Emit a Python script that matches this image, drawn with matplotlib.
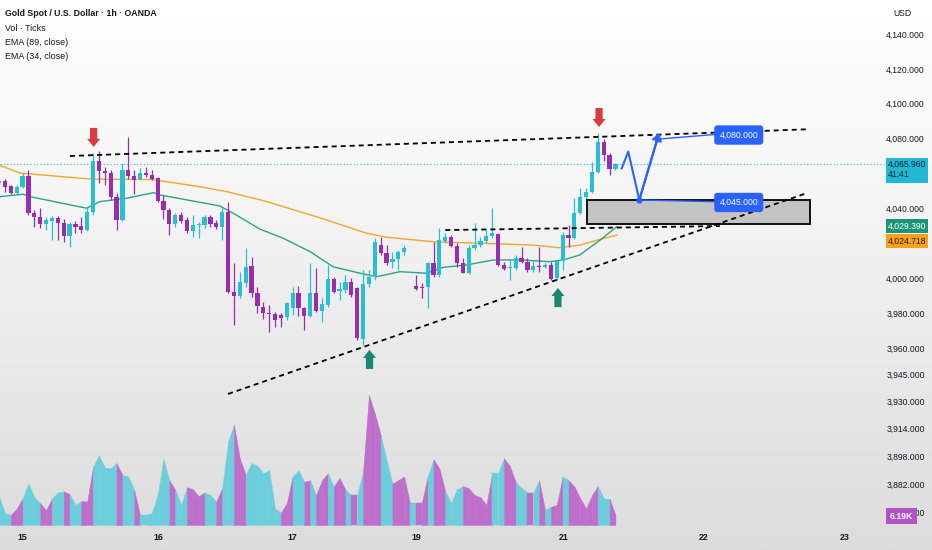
import numpy as np
import matplotlib
matplotlib.use("Agg")
import matplotlib.pyplot as plt
from matplotlib.colors import LinearSegmentedColormap
from matplotlib.patches import Rectangle, Polygon
from matplotlib.transforms import blended_transform_factory

plt.rcParams['font.family'] = ['Liberation Sans', 'DejaVu Sans']

# ---- hourly candles, index 0..105 (index 70 has no bar) ----
opens = [4055.0, 4056.5, 4053.7, 4049.3, 4053.1, 4059.4, 4037.9, 4035.6, 4031.8, 4033.6,
         4035.3, 4032.5, 4025.0, 4031.8, 4030.6, 4028.4, 4038.8, 4068.0, 4062.3, 4061.1,
         4047.4, 4034.1, 4062.6, 4059.2, 4057.3, 4061.1, 4059.8, 4058.3, 4045.1, 4039.8,
         4031.8, 4036.9, 4034.1, 4027.9, 4031.2, 4031.2, 4035.6, 4032.2, 4029.9, 4038.8,
         3993.0, 3990.5, 3998.2, 4007.7, 3992.1, 3984.5, 3980.7, 3980.3, 3979.7, 3978.7,
         3983.6, 3992.1, 3983.6, 3979.2, 3992.1, 3982.2, 3985.4, 4000.1, 3993.4, 3994.0,
         3998.7, 3994.9, 3965.8, 3997.4, 4001.6, 4019.7, 4015.3, 4010.2, 4011.5, 4015.9,
         np.nan, 3996.3, 3995.7, 3995.5, 4009.2, 4002.5, 4022.2, 4024.5, 4019.1, 4009.2,
         4003.9, 4017.9, 4019.7, 4022.0, 4024.8, 4025.9, 4008.3, 4006.4, 4006.4, 4012.5,
         4010.2, 4005.4, 4007.7, 4007.3, 4008.3, 4000.6, 4010.6, 4025.4, 4023.6, 4038.3,
         4047.4, 4050.3, 4061.7, 4078.8, 4071.2, 4063.0]
highs = [4057.5, 4057.3, 4054.1, 4054.1, 4061.1, 4062.6, 4039.8, 4040.7, 4035.6, 4036.4,
         4036.4, 4034.5, 4033.0, 4033.6, 4035.6, 4040.7, 4072.6, 4073.7, 4064.6, 4062.6,
         4049.3, 4066.5, 4081.7, 4062.6, 4063.6, 4064.6, 4062.6, 4058.8, 4048.4, 4040.7,
         4037.9, 4038.8, 4035.9, 4036.9, 4033.0, 4036.9, 4036.9, 4034.1, 4040.7, 4044.6,
         4009.2, 4004.4, 4017.9, 4013.0, 3995.9, 3987.3, 3985.4, 3981.6, 3981.0, 3987.3,
         3995.9, 3996.3, 3984.5, 4009.2, 4006.7, 3989.2, 4008.3, 4001.6, 3998.7, 4002.5,
         4000.6, 3995.9, 4005.4, 4005.4, 4023.6, 4024.5, 4019.7, 4015.9, 4016.8, 4019.7,
         np.nan, 4002.5, 3997.8, 4010.2, 4021.6, 4029.3, 4026.5, 4025.4, 4020.7, 4012.1,
         4019.7, 4032.2, 4024.5, 4028.4, 4040.7, 4026.5, 4010.2, 4011.1, 4014.0, 4018.7,
         4012.1, 4011.1, 4018.7, 4009.2, 4010.2, 4011.1, 4027.3, 4031.2, 4046.5, 4052.2,
         4052.2, 4067.4, 4084.0, 4080.2, 4072.2, 4066.8]
lows = [4053.5, 4050.3, 4048.9, 4048.4, 4052.2, 4036.9, 4030.2, 4029.3, 4028.4, 4022.5,
        4022.5, 4021.6, 4018.7, 4026.5, 4026.5, 4028.0, 4036.9, 4055.0, 4054.1, 4045.5,
        4028.4, 4033.7, 4057.3, 4048.9, 4056.9, 4058.8, 4056.9, 4044.6, 4034.5, 4025.4,
        4030.2, 4032.2, 4026.5, 4024.5, 4023.6, 4029.3, 4030.2, 4028.7, 4022.5, 3992.1,
        3974.0, 3989.2, 3995.9, 3990.2, 3980.7, 3977.3, 3970.1, 3973.0, 3973.0, 3976.9,
        3979.7, 3979.2, 3971.2, 3978.7, 3981.6, 3975.8, 3984.5, 3992.1, 3988.3, 3992.1,
        3990.2, 3965.3, 3962.5, 3995.9, 3999.7, 4014.0, 4008.3, 4006.4, 4005.4, 4014.0,
        np.nan, 3994.0, 3989.2, 3983.6, 4001.6, 4001.6, 4020.7, 4018.7, 4007.3, 4003.5,
        4003.1, 4016.8, 4018.7, 4020.7, 4023.6, 4007.7, 4005.4, 3999.7, 4005.4, 4009.2,
        4004.4, 4004.4, 4004.4, 4006.4, 3999.7, 3999.7, 4005.4, 4018.7, 4023.0, 4037.5,
        4045.5, 4049.3, 4060.7, 4068.0, 4059.8, 4062.6]
closes = [4056.5, 4053.1, 4049.3, 4053.1, 4059.4, 4037.9, 4035.6, 4031.8, 4034.1, 4035.3,
          4032.5, 4025.0, 4031.8, 4030.2, 4028.4, 4038.8, 4068.0, 4062.3, 4060.7, 4047.4,
          4034.1, 4062.6, 4059.2, 4056.9, 4061.1, 4059.8, 4057.3, 4045.1, 4039.8, 4031.8,
          4036.9, 4033.6, 4027.9, 4031.2, 4031.8, 4035.6, 4031.8, 4029.9, 4038.8, 3993.0,
          3990.5, 3998.7, 4007.3, 3992.1, 3984.9, 3980.7, 3980.3, 3976.9, 3977.8, 3986.4,
          3992.1, 3983.6, 3979.2, 3992.1, 3982.2, 3986.0, 4000.1, 3993.0, 3994.6, 3998.7,
          3991.1, 3966.4, 3997.4, 4001.6, 4021.6, 4015.3, 4009.6, 4011.5, 4015.9, 4017.9,
          np.nan, 3994.7, 3995.3, 4009.2, 4002.5, 4022.5, 4024.2, 4019.1, 4009.2, 4003.9,
          4017.9, 4019.7, 4022.0, 4024.8, 4026.5, 4008.3, 4005.8, 4006.5, 4012.5, 4010.2,
          4005.4, 4007.7, 4007.3, 4008.3, 4000.3, 4010.6, 4025.4, 4023.6, 4038.3, 4047.4,
          4050.3, 4061.7, 4078.8, 4071.2, 4063.0, 4066.1]

# volume (K ticks) and the colour of each area segment: u = up, d = down
volume = [17.5, 7.3, 6.3, 10.2, 16.5, 25.7, 17.2, 13.5, 9.2, 16.5,
          20.1, 20.8, 19.1, 12.5, 14.9, 14.5, 36.0, 43.2, 35.6, 35.0,
          38.3, 31.0, 30.0, 21.8, 6.3, 6.3, 7.3, 18.5, 40.6, 27.7,
          21.8, 12.5, 23.4, 22.1, 17.8, 20.1, 18.5, 14.5, 22.8, 51.5,
          62.0, 41.3, 31.0, 38.3, 36.6, 32.0, 34.0, 10.2, 7.6, 13.5,
          30.0, 33.7, 26.7, 27.7, 18.5, 27.7, 32.0, 23.8, 29.0, 21.8,
          18.5, 18.5, 33.0, 80.5, 69.0, 55.8, 40.3, 25.7, 27.7, 30.0,
          13.5, 13.5, 13.5, 30.0, 40.6, 35.0, 21.1, 13.5, 22.1, 24.1,
          22.8, 18.5, 17.2, 12.5, 32.0, 32.0, 41.3, 36.6, 26.7, 22.8,
          20.1, 20.1, 27.7, 9.2, 11.2, 12.5, 30.0, 27.7, 23.8, 16.5,
          10.2, 18.5, 24.1, 16.5, 16.2, 6.19]
vol_side = ("uuudduuudd" "uuduudduuu" "uduuduuuuu" "duuddduudu" "udduuuuuud"
            "duududdudd" "ududdduudd" "duddudduuu" "ddddduuddu" "udududdudd" "ddduud")

ema89_x = [0, 3.6, 15.5, 26.2, 34.2, 38.8, 45.6, 54.1, 62.6, 66, 74, 82.5, 91, 95.5, 99, 101.8, 105.2]
ema89_y = [4065.5, 4060.9, 4057.5, 4057.2, 4053.1, 4050.3, 4044.6, 4035.9, 4026.5, 4024.2,
           4021.6, 4020.7, 4019.7, 4018.2, 4019.7, 4022.5, 4025.4]
ema34_x = [0, 4.1, 5.3, 14.9, 17.2, 21.7, 26.3, 27.4, 37.6, 39.9, 44.4, 48.4, 53, 56.9,
           61.5, 64.3, 68.3, 72.8, 75.7, 79.6, 84.2, 88.7, 93.8, 96.1, 98.9, 102.4, 105.2]
ema34_y = [4047.4, 4048.8, 4047.4, 4040.8, 4044.6, 4046.5, 4049.7, 4048.4, 4042.1, 4037.9,
           4028.9, 4023.6, 4015.9, 4007.3, 4003.6, 4001.6, 4004.5, 4003.6, 4007.0, 4008.3,
           4011.2, 4011.2, 4010.2, 4011.2, 4014.0, 4022.6, 4030.2]

price_ticks = [4140, 4120, 4100, 4080, 4040, 4000, 3980, 3960, 3945, 3930, 3914, 3898, 3882, 3866]
day_pos = [4.0, 27.1, 50.0, 71.1, 96.1, 120.1, 144.1]
day_labels = ['15', '16', '17', '19', '21', '22', '23']

# drawings on the chart
resistance_x, resistance_y = [12.07, 137.8], [4070.7, 4086.0]
support_x, support_y = [39.0, 137.8], [3934.5, 4049.7]
range_x, range_y = [76.0, 122.8], [4028.3, 4030.6]
zone_x, zone_y = [100.2, 138.1], [4031.6, 4045.5]
path_x = [106.06, 107.18, 109.06, 112.12]
path_y = [4063.6, 4073.2, 4045.5, 4080.3]
path_tip = (112.45, 4083.9)
target_vals = [4080.0, 4045.0]
target_y = [4082.7, 4044.1]
target_x = 126.0
down_arrows = [(16.1, 4075.9), (102.2, 4087.3)]
up_arrows = [(63.1, 3959.7), (95.2, 3995.1)]

TEAL, PURPLE = '#26bfd6', '#9a2cb2'
TEAL_V, PURPLE_V = '#6ccedb', '#bd6fcb'
BLUE = '#2962ff'
INK = '#131722'
FS = 6.4     # legend / time scale
FP = 6.2     # price scale

W, H = 932, 550
PX_X = 5.87          # pixels per bar
PX_Y = 1 / 0.57234   # pixels per price unit

fig = plt.figure(figsize=(W / 100, H / 100), dpi=100)

bg = fig.add_axes([0, 0, 1, 1], zorder=0)
cmap = LinearSegmentedColormap.from_list('bg', ['#ffffff', '#f6f6f6', '#e9e9e9', '#dcdcdc'])
bg.imshow(np.linspace(0, 1, 256).reshape(-1, 1), aspect='auto', cmap=cmap, extent=[0, 1, 0, 1])
bg.set_axis_off()

rect = [0, 25 / H, 865 / W, 525 / H]
axv = fig.add_axes(rect, zorder=1)
ax = fig.add_axes(rect, zorder=2)
for a in (axv, ax):
    a.set_xlim(0.148, 147.51)
    a.set_axis_off()
ax.set_ylim(4159.98 - 525 / PX_Y, 4159.98)
axv.set_ylim(0, 525 / 1.616)

# volume area
for i in range(1, len(volume)):
    c = TEAL_V if vol_side[i] == 'u' else PURPLE_V
    axv.fill_between([i - 1, i], [volume[i - 1], volume[i]], 0, color=c, lw=0.3)

# candles
o, h, l, c = (np.array(v, dtype=float) for v in (opens, highs, lows, closes))
x = np.arange(len(o))
ok = ~np.isnan(o)
cols = np.where(c >= o, TEAL, PURPLE)
ax.vlines(x[ok], l[ok], h[ok], colors=cols[ok], lw=0.9, zorder=3)
body = np.maximum(np.abs(c - o), 0.6)
ax.bar(x[ok], body[ok], bottom=np.minimum(o, c)[ok], width=0.72, color=cols[ok], lw=0, zorder=4)

ax.plot(ema89_x, ema89_y, color='#f5a52a', lw=1.0, zorder=2)
ax.plot(ema34_x, ema34_y, color='#2aa58a', lw=1.0, zorder=2)

ax.axhline(closes[-1], xmin=0, xmax=886 / 865, color='#2bc3d8', lw=0.8,
           ls=(0, (1, 2)), clip_on=False, zorder=1)

# zone and trend lines
ax.add_patch(Rectangle((zone_x[0], zone_y[0]), zone_x[1] - zone_x[0], zone_y[1] - zone_y[0],
                       fc='#c4c4c4', ec='black', lw=1.3, zorder=5))
for xs, ys in ((resistance_x, resistance_y), (support_x, support_y), (range_x, range_y)):
    ax.plot(xs, ys, color='black', lw=1.3, dashes=(2.8, 2.2), zorder=6)

# projected path
ax.plot(path_x, path_y, color=BLUE, lw=1.5, zorder=7)
ax.annotate('', xy=path_tip, xytext=(path_x[2], path_y[2]),
            arrowprops=dict(arrowstyle='->,head_length=0.45,head_width=0.3', color=BLUE,
                            lw=1.5, shrinkA=0, shrinkB=0), zorder=7)
ax.plot(path_x[2:], path_y[2:], 'o', color=BLUE, ms=3.5, zorder=8)
for px_, py_, ty, tv in ((path_x[3], path_y[3], target_y[0], target_vals[0]),
                         (path_x[2], path_y[2], target_y[1], target_vals[1])):
    ax.plot([px_, target_x - 3.8], [py_, ty + 0.4], color=BLUE, lw=1.0, zorder=7)
    ax.text(target_x, ty, f'{tv:,.3f}', ha='center', va='center', fontsize=FP, color='white',
            zorder=9, bbox=dict(boxstyle='round,pad=0.6,rounding_size=0.4', fc=BLUE, ec='none'))

# signal arrows
hw, sw = 6.5 / PX_X, 3.6 / PX_X
hh, ln = 8 / PX_Y, 19 / PX_Y


def arrow(xc, tip, d, color):
    pts = [(xc, tip), (xc - hw, tip - d * hh), (xc - sw, tip - d * hh), (xc - sw, tip - d * ln),
           (xc + sw, tip - d * ln), (xc + sw, tip - d * hh), (xc + hw, tip - d * hh)]
    ax.add_patch(Polygon(pts, closed=True, fc=color, ec='none', zorder=8))


for xa, ya in down_arrows:
    arrow(xa, ya, -1, '#dc3a40')
for xa, ya in up_arrows:
    arrow(xa, ya, 1, '#14896d')

# price scale
tr = blended_transform_factory(ax.transAxes, ax.transData)
for p in price_ticks:
    ax.text(925 / 865, p, f'{p:,.3f}', transform=tr, ha='right', va='center',
            fontsize=FP, color=INK, clip_on=False)


def tag(y0, y1, color, width=42):
    ax.add_patch(Rectangle((886 / 865, y0), width / 865, y1 - y0, transform=tr, fc=color,
                           ec='none', clip_on=False, zorder=10))


last = closes[-1]
tag(last - 19 / PX_Y, last + 6 / PX_Y, '#22b7d3')
ax.text(888 / 865, last, '4,065.960', transform=tr, ha='left', va='center',
        fontsize=FP, color='#0f2433', zorder=11)
ax.text(888 / 865, last - 10.2 / PX_Y, '41:41', transform=tr, ha='left', va='center',
        fontsize=FP, color='#0f2433', zorder=11)
tag(4030.6 - 7 / PX_Y, 4030.6 + 7 / PX_Y, '#1d9477')
ax.text(888 / 865, 4030.6, '4,029.390', transform=tr, ha='left', va='center',
        fontsize=FP, color='white', zorder=11)
tag(4022.0 - 7 / PX_Y, 4022.0 + 7 / PX_Y, '#f7a21b')
ax.text(888 / 865, 4022.0, '4,024.718', transform=tr, ha='left', va='center',
        fontsize=FP, color='#2a1800', zorder=11)
vol_tag_y = 3864.4
tag(vol_tag_y - 8 / PX_Y, vol_tag_y + 8 / PX_Y, '#b052c8', width=31)
ax.text(901.5 / 865, vol_tag_y, '6.19K', transform=tr, ha='center', va='center',
        fontsize=FP, color='white', weight='bold', zorder=11)

fig.add_artist(Rectangle((886 / W, 1 - 22 / H), 42 / W, 17 / H, transform=fig.transFigure,
                         fc='white', ec='none', zorder=3))
fig.text(902 / W, 1 - 13 / H, 'USD', ha='center', va='center', fontsize=FP, color=INK, zorder=4)

# time scale
trx = blended_transform_factory(ax.transData, ax.transAxes)
for k, lab in zip(day_pos, day_labels):
    ax.text(k, -13 / 525, lab, transform=trx, ha='center', va='center', fontsize=FS,
            weight='bold', color=INK, clip_on=False)

# legend text
fig.text(5 / W, 1 - 14 / H, 'Gold Spot / U.S. Dollar · 1h · OANDA', fontsize=6.3,
         weight='bold', color=INK, va='center')
for i, s in enumerate(['Vol · Ticks', 'EMA (89, close)', 'EMA (34, close)']):
    fig.text(5 / W, 1 - (28.3 + 14.2 * i) / H, s, fontsize=FS, color=INK, va='center')

fig.savefig('out.png', dpi=100)
